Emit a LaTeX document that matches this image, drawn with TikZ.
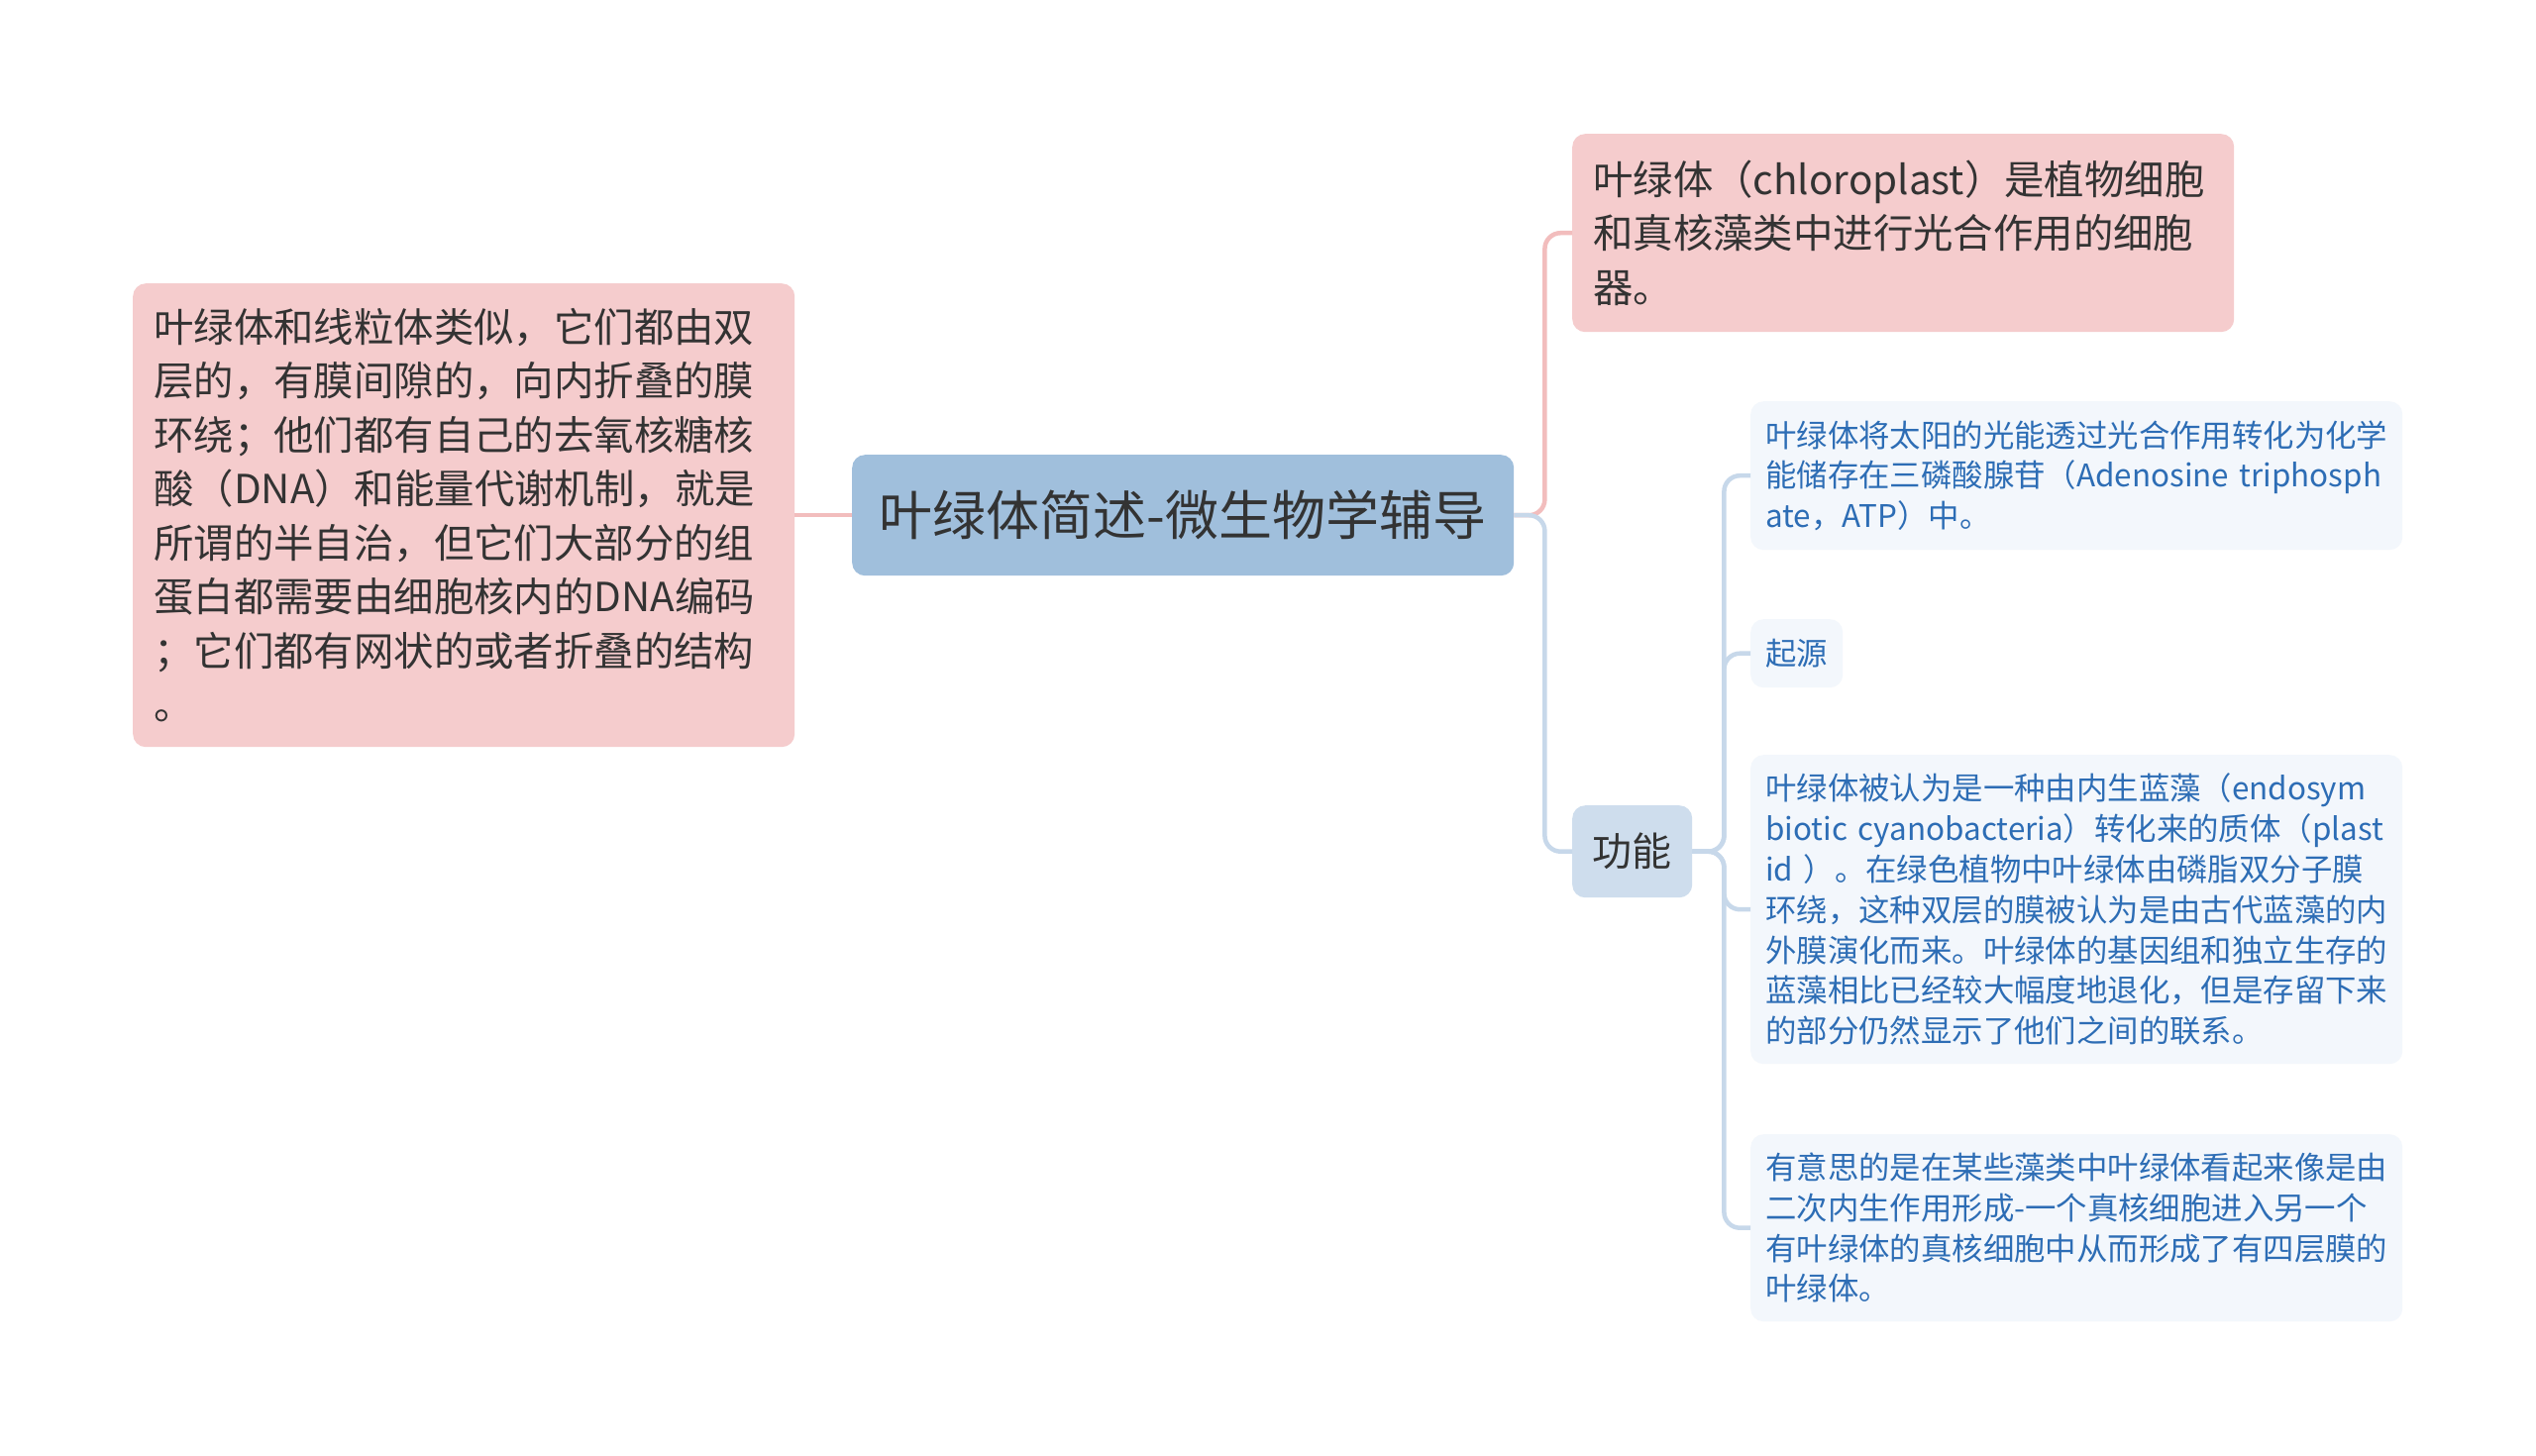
\documentclass[tikz,border=0pt]{standalone}
\usepackage{fontspec}
\setmainfont{Noto Sans CJK SC}
\definecolor{pinkfill}{HTML}{F5CCCD}
\definecolor{pinkline}{HTML}{F2BDBD}
\definecolor{rootfill}{HTML}{A0BFDC}
\definecolor{gnfill}{HTML}{CEDDED}
\definecolor{leaffill}{HTML}{F3F7FC}
\definecolor{blueline}{HTML}{C7D8EA}
\definecolor{bluetext}{HTML}{2D6DB5}
\definecolor{darktext}{HTML}{333333}
\tikzset{
  box/.style={rounded corners=13pt, anchor=north west, inner ysep=0pt, align=left},
  pinkbox/.style={box, fill=pinkfill, text=darktext, inner xsep=21pt, text width=626pt,
    font=\fontsize{40.4pt}{54.5pt}\selectfont},
  rootbox/.style={box, fill=rootfill, text=darktext, minimum width=668pt, minimum height=122pt,
    align=center, font=\fontsize{54pt}{60pt}\selectfont},
  gnbox/.style={box, fill=gnfill, text=darktext, minimum width=121pt, minimum height=93pt,
    align=center, font=\fontsize{40pt}{50pt}\selectfont},
  leafbox/.style={box, fill=leaffill, text=bluetext, inner xsep=15pt, text width=628pt,
    font=\fontsize{31.4pt}{40.8pt}\selectfont},
  smallleaf/.style={box, fill=leaffill, text=bluetext, minimum width=93pt, minimum height=69pt,
    align=center, font=\fontsize{31.4pt}{40.8pt}\selectfont},
  pinkconn/.style={draw=pinkline, line width=4.5pt, rounded corners=16pt},
  blueconn/.style={draw=blueline, line width=4.5pt, rounded corners=16pt}
}
\begin{document}
\begin{tikzpicture}[x=1pt,y=-1pt]
\useasboundingbox (0,0) rectangle (2560,1470);
\fill[white] (0,0) rectangle (2560,1470);

% root
\node[rootbox] (root) at (860,459) {叶绿体简述-微生物学辅导};

% left
\node[pinkbox, minimum height=468pt] (left) at (134,286) {叶绿体和线粒体类似，它们都由双\\
层的，有膜间隙的，向内折叠的膜\\
环绕；他们都有自己的去氧核糖核\\
酸（DNA）和能量代谢机制，就是\\
所谓的半自治，但它们大部分的组\\
蛋白都需要由细胞核内的DNA编码\\
；它们都有网状的或者折叠的结构\\
。};

% top right
\node[pinkbox, minimum height=200pt] (tr) at (1587,135) {叶绿体（chloroplast）是植物细胞\\
和真核藻类中进行光合作用的细胞\\
器。};

% function
\node[gnbox] (gn) at (1587,813) {功能};

% leaves
\node[leafbox, minimum height=150pt] (c1) at (1767,405) {叶绿体将太阳的光能透过光合作用转化为化学\\
能储存在三磷酸腺苷（Adenosine~triphosph\\
ate，ATP）中。};
\node[smallleaf] (c2) at (1767,625) {起源};
\node[leafbox, minimum height=312pt] (c3) at (1767,762) {叶绿体被认为是一种由内生蓝藻（endosym\\
biotic~cyanobacteria）转化来的质体（plast\\
id~）。在绿色植物中叶绿体由磷脂双分子膜\\
环绕，这种双层的膜被认为是由古代蓝藻的内\\
外膜演化而来。叶绿体的基因组和独立生存的\\
蓝藻相比已经较大幅度地退化，但是存留下来\\
的部分仍然显示了他们之间的联系。};
\node[leafbox, minimum height=189pt] (c4) at (1767,1145) {有意思的是在某些藻类中叶绿体看起来像是由\\
二次内生作用形成-一个真核细胞进入另一个\\
有叶绿体的真核细胞中从而形成了有四层膜的\\
叶绿体。};

% connectors
\draw[pinkconn] (root.west) -- (left.east);
\draw[pinkconn] (root.east) -- ++(31,0) |- (tr.west);
\draw[blueconn] (root.east) -- ++(31,0) |- (gn.west);
\draw[blueconn] (gn.east) -- ++(32,0) |- (c1.west);
\draw[blueconn] (gn.east) -- ++(32,0) |- (c2.west);
\draw[blueconn] (gn.east) -- ++(32,0) |- (c3.west);
\draw[blueconn] (gn.east) -- ++(32,0) |- (c4.west);
\end{tikzpicture}
\end{document}
